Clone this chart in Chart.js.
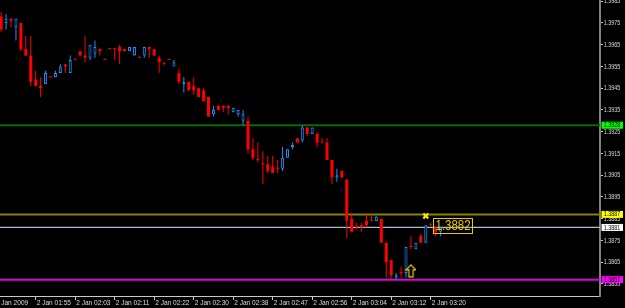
<!DOCTYPE html>
<html><head><meta charset="utf-8">
<script src="https://cdn.jsdelivr.net/npm/chart.js@4.4.1/dist/chart.umd.min.js"></script>
<style>html,body{margin:0;padding:0;background:#000;overflow:hidden}#wrap{width:625px;height:308px}</style>
</head><body><div id="wrap"><canvas id="c" width="625" height="308"></canvas></div>
<script>
// ---- data ----
const timeLabels = ["2 Jan 2009","2 Jan 01:55","2 Jan 02:03","2 Jan 02:11","2 Jan 02:22","2 Jan 02:30","2 Jan 02:38","2 Jan 02:47","2 Jan 02:56","2 Jan 03:04","2 Jan 03:12","2 Jan 03:20"];
const timeLabelBars = [-1.3, 7, 15, 23, 31, 39, 47, 55, 63, 71, 79, 87];
const opens  = [1.3978,1.3975,1.3977,1.3973,1.3975,1.3963,1.3960,1.3949,1.3946,1.3947,1.3950,1.3950,1.3952,1.3956,1.3952,1.3958,1.3962,1.3960,1.3959,1.3961,1.3963,1.3958,1.3963,1.3963,1.3964,1.3963,1.3962,1.3960,1.3959,1.3960,1.3964,1.3963,1.3959,1.3956,1.3958,1.3955,1.3952,1.3947,1.3948,1.3946,1.3945,1.3944,1.3941,1.3933,1.3937,1.3937,1.3937,1.3934,1.3933,1.3930,1.3930,1.3917,1.3912,1.3910,1.3910,1.3909,1.3908,1.3908,1.3913,1.3918,1.3922,1.3921,1.3927,1.3924,1.3924,1.3920,1.3920,1.3912,1.3904,1.3907,1.3903,1.3885,1.3881,1.3882,1.3884,1.3884,1.3884,1.3885,1.3874,1.3866,1.3858,1.3860,1.3860,1.3872,1.3871,1.3877,1.3874,1.3882,1.3881,1.3879];
const highs  = [1.3980,1.3979,1.3977,1.3977,1.3975,1.3969,1.3969,1.3953,1.3950,1.3953,1.3950,1.3953,1.3956,1.3956,1.3960,1.3958,1.3962,1.3969,1.3965,1.3967,1.3963,1.3958,1.3963,1.3963,1.3965,1.3963,1.3964,1.3964,1.3959,1.3964,1.3964,1.3963,1.3960,1.3957,1.3958,1.3958,1.3954,1.3950,1.3948,1.3950,1.3945,1.3945,1.3941,1.3937,1.3937,1.3937,1.3937,1.3936,1.3935,1.3935,1.3932,1.3922,1.3920,1.3916,1.3914,1.3914,1.3912,1.3918,1.3917,1.3920,1.3922,1.3928,1.3927,1.3927,1.3925,1.3922,1.3922,1.3912,1.3908,1.3907,1.3903,1.3887,1.3883,1.3883,1.3887,1.3887,1.3886,1.3885,1.3874,1.3866,1.3860,1.3863,1.3872,1.3877,1.3874,1.3878,1.3882,1.3883,1.3881,1.3881];
const lows   = [1.3971,1.3972,1.3973,1.3967,1.3962,1.3960,1.3946,1.3946,1.3941,1.3947,1.3950,1.3950,1.3952,1.3952,1.3952,1.3958,1.3960,1.3957,1.3958,1.3959,1.3960,1.3958,1.3963,1.3958,1.3956,1.3962,1.3962,1.3960,1.3959,1.3959,1.3959,1.3960,1.3952,1.3956,1.3958,1.3955,1.3947,1.3943,1.3944,1.3942,1.3941,1.3939,1.3932,1.3932,1.3935,1.3934,1.3933,1.3934,1.3932,1.3928,1.3915,1.3912,1.3911,1.3901,1.3906,1.3906,1.3906,1.3907,1.3913,1.3917,1.3920,1.3920,1.3923,1.3924,1.3918,1.3920,1.3912,1.3901,1.3902,1.3904,1.3876,1.3879,1.3880,1.3879,1.3881,1.3884,1.3884,1.3874,1.3858,1.3857,1.3857,1.3858,1.3858,1.3871,1.3871,1.3874,1.3874,1.3882,1.3877,1.3877];
const closes = [1.3972,1.3977,1.3976,1.3977,1.3963,1.3960,1.3948,1.3946,1.3945,1.3952,1.3950,1.3952,1.3955,1.3955,1.3958,1.3958,1.3960,1.3959,1.3965,1.3964,1.3962,1.3958,1.3963,1.3963,1.3962,1.3962,1.3964,1.3964,1.3959,1.3964,1.3963,1.3960,1.3957,1.3956,1.3958,1.3957,1.3948,1.3948,1.3944,1.3944,1.3941,1.3939,1.3932,1.3935,1.3935,1.3936,1.3936,1.3936,1.3935,1.3933,1.3917,1.3913,1.3912,1.3910,1.3907,1.3906,1.3908,1.3913,1.3917,1.3919,1.3920,1.3927,1.3924,1.3927,1.3920,1.3920,1.3912,1.3904,1.3905,1.3904,1.3884,1.3879,1.3881,1.3881,1.3882,1.3884,1.3886,1.3874,1.3865,1.3859,1.3859,1.3860,1.3872,1.3872,1.3874,1.3874,1.3882,1.3882,1.3879,1.3881];
const priceTicks = [1.3855,1.3865,1.3875,1.3885,1.3895,1.3905,1.3915,1.3925,1.3935,1.3945,1.3955,1.3965,1.3975,1.3985];
const levelPrices = [1.3928, 1.3887, 1.3881, 1.3857];
const arrowBars = [83];
const arrowPrices = [1.3861];
const crossBars = [86];
const crossPrices = [1.38863];
const lastPriceText = "1.3882";
const lastPriceValue = 1.3882;
const lastPriceBar = 87.45;

// ---- styles ----
const FONT = "'Liberation Sans',Arial,sans-serif";
const SQUEEZE = 0.82;
const BULL = '#1e90ff', BEAR = '#ff0000';
const levelLineColors = ['#006e00', '#8a8400', '#a8bcd8', '#e000e0'];
const levelLineWidths = [2, 2, 1.2, 2];
const levelBoxColors = ['#00ff00', '#ffff00', '#ffffff', '#ff00ff'];
const GOLD = '#e8c800';
const AXIS_TEXT = '#dcdcdc';

const idx = opens.map((_, i) => i);
const isBull = idx.map(i => closes[i] > opens[i]);

function squeezedText(ctx, text, x, y, size, color) {
  ctx.save();
  ctx.translate(x, y);
  ctx.scale(SQUEEZE, 1);
  ctx.font = size + "px " + FONT;
  ctx.fillStyle = color;
  ctx.textAlign = 'left';
  ctx.textBaseline = 'middle';
  ctx.fillText(text, 0, 0);
  const w = ctx.measureText(text).width * SQUEEZE;
  ctx.restore();
  return w;
}

const arrowImg = document.createElement('canvas');
arrowImg.width = 11; arrowImg.height = 14;
(function(){
  const g = arrowImg.getContext('2d');
  g.strokeStyle = GOLD; g.lineWidth = 1.2;
  g.beginPath();
  g.moveTo(5.5, 0.8); g.lineTo(10.2, 5.8); g.lineTo(7.6, 5.8); g.lineTo(7.6, 12.8);
  g.lineTo(3.4, 12.8); g.lineTo(3.4, 5.8); g.lineTo(0.8, 5.8); g.closePath();
  g.stroke();
})();

const overlay = {
  id: 'overlay',
  beforeDatasetsDraw(chart) {
    const {ctx, chartArea: a, scales: {y}} = chart;
    ctx.save();
    levelPrices.forEach((p, k) => {
      const py = y.getPixelForValue(p);
      ctx.strokeStyle = levelLineColors[k];
      ctx.lineWidth = levelLineWidths[k];
      ctx.beginPath(); ctx.moveTo(a.left, py); ctx.lineTo(a.right, py); ctx.stroke();
    });
    ctx.restore();
  },
  afterDatasetsDraw(chart) {
    const {ctx, scales: {x, y}} = chart;
    const bx = Math.round(x.getPixelForValue(lastPriceBar));
    const by = y.getPixelForValue(lastPriceValue);
    ctx.save();
    ctx.font = "14px " + FONT;
    const w = ctx.measureText(lastPriceText).width * SQUEEZE + 4;
    ctx.strokeStyle = GOLD; ctx.lineWidth = 1;
    ctx.strokeRect(bx + 0.5, Math.round(by - 7.5) + 0.5, Math.round(w), 15);
    ctx.restore();
    squeezedText(ctx, lastPriceText, bx + 2.5, by + 1, 14, GOLD);
  },
  afterDraw(chart) {
    const {ctx, chartArea: a, scales: {x, y}} = chart;
    priceTicks.forEach(p => {
      squeezedText(ctx, p.toFixed(4), a.right + 3.8, y.getPixelForValue(p) + 0.3, 6.5, AXIS_TEXT);
    });
    timeLabelBars.forEach((b, k) => {
      squeezedText(ctx, timeLabels[k], x.getPixelForValue(b) + 1, a.bottom + 7, 8, AXIS_TEXT);
    });
    levelPrices.forEach((p, k) => {
      const py = y.getPixelForValue(p);
      ctx.fillStyle = levelBoxColors[k];
      ctx.fillRect(a.right + 1.5, py - 3.5, 21.5, 7);
      squeezedText(ctx, p.toFixed(4), a.right + 3.8, py + 0.3, 6.5, '#000');
    });
  }
};

new Chart(document.getElementById('c'), {
  type: 'bar',
  data: {
    datasets: [
      {
        label: 'body', order: 1, grouped: false,
        data: idx.map(i => ({x: i, y: [opens[i], closes[i]]})),
        backgroundColor: idx.map(i => isBull[i] ? '#000000' : BEAR),
        borderColor: idx.map(i => isBull[i] ? BULL : BEAR),
        borderWidth: idx.map(i => isBull[i] ? 1 : 0),
        borderSkipped: false, barThickness: 3, minBarLength: 1, inflateAmount: 0
      },
      {
        label: 'wick', order: 2, grouped: false,
        data: idx.map(i => ({x: i, y: [lows[i], highs[i]]})),
        backgroundColor: idx.map(i => isBull[i] ? BULL : BEAR),
        borderWidth: 0, barThickness: 1, minBarLength: 1, inflateAmount: 0
      },
      {
        type: 'line', label: 'arrow', order: 0, showLine: false,
        data: arrowBars.map((b, k) => ({x: b, y: arrowPrices[k]})),
        pointStyle: arrowImg, pointRadius: 6
      },
      {
        type: 'line', label: 'cross', order: 0, showLine: false,
        data: crossBars.map((b, k) => ({x: b, y: crossPrices[k]})),
        pointStyle: 'crossRot', pointRadius: 3.5, borderColor: '#ffe600', borderWidth: 2.2, backgroundColor: '#ffe600'
      }
    ]
  },
  options: {
    responsive: false, devicePixelRatio: 1, animation: false,
    layout: {padding: 0, autoPadding: false},
    plugins: {legend: {display: false}, tooltip: {enabled: false}},
    scales: {
      x: {
        type: 'linear', position: 'bottom', bounds: 'data', offset: false,
        min: -0.231, max: 121.29,
        grid: {drawOnChartArea: false, drawTicks: true, tickLength: 4, color: '#c8c8c8', offset: false},
        border: {display: true, color: '#c8c8c8', width: 1},
        ticks: {display: false, autoSkip: false, maxRotation: 0, minRotation: 0},
        afterBuildTicks: (s) => { s.ticks = timeLabelBars.map(v => ({value: v})); },
        afterFit: (s) => { s.height = 12; s.paddingLeft = 0; s.paddingRight = 0; }
      },
      y: {
        type: 'linear', position: 'right', bounds: 'data',
        min: 1.384948, max: 1.398557,
        grid: {drawOnChartArea: false, drawTicks: true, tickLength: 3, color: '#c8c8c8'},
        border: {display: true, color: '#808080', width: 2},
        ticks: {display: false},
        afterBuildTicks: (s) => { s.ticks = priceTicks.map(v => ({value: v})); },
        afterFit: (s) => { s.width = 25; s.paddingTop = 0; s.paddingBottom = 0; }
      }
    }
  },
  plugins: [overlay]
});
</script>
</body></html>
